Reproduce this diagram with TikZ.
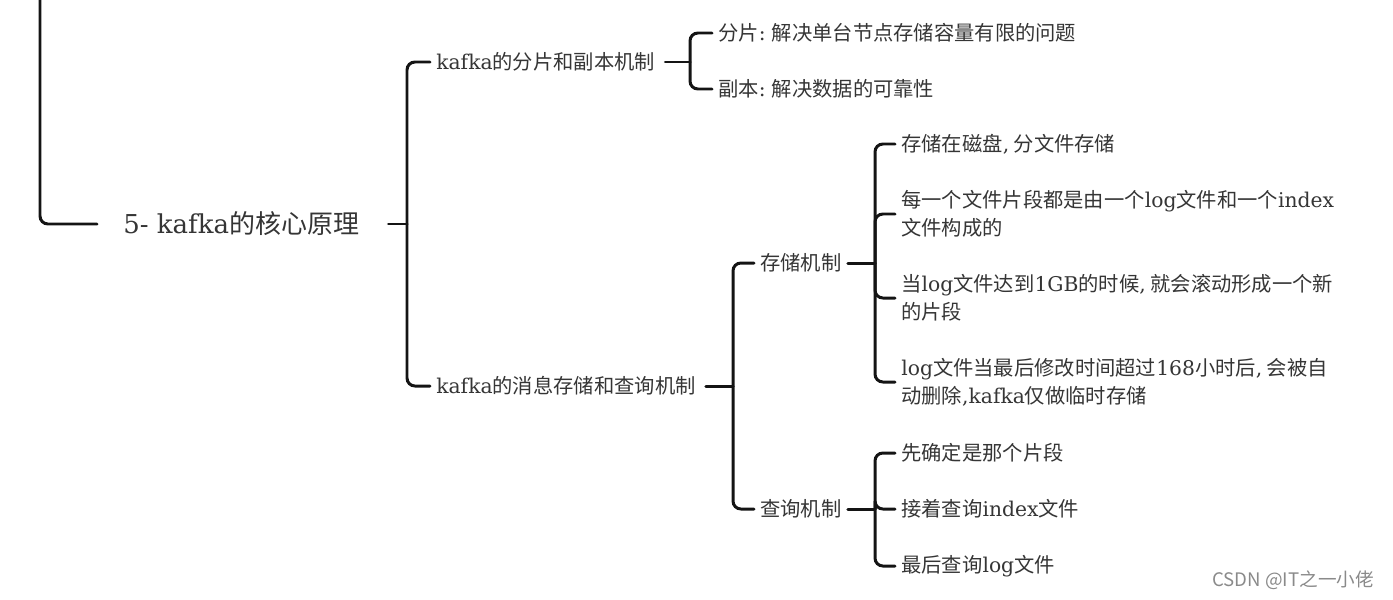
\documentclass[tikz,border=0pt]{standalone}
\usepackage{fontspec}
\setmainfont{Noto Sans CJK SC}
\newfontfamily\latfont{DejaVu Serif}
\newcommand\en[1]{{\latfont #1}}
\usepackage{xcolor}
\usepackage{tikz}
\usetikzlibrary{calc}
\definecolor{inkgray}{HTML}{353535}
\definecolor{linkblack}{HTML}{141414}
\definecolor{markgray}{HTML}{8A8A8A}

\begin{document}
\begin{tikzpicture}[x=0.02cm,y=-0.02cm,
  topic/.style={anchor=west,inner sep=0pt,align=left,text=inkgray,
    font=\fontsize{11.55}{16}\selectfont},
  roottopic/.style={topic,font=\fontsize{14.8}{18}\selectfont},
  link/.style={draw=linkblack,line width=1.7pt,line cap=round,rounded corners=4.5pt}]
  \useasboundingbox (0,0) rectangle (1393,599);
  % topics
  \node[roottopic] (root) at (123,224) {\en{5- kafka}的核心原理};
  \node[topic] (part) at (436,62) {\en{kafka}的分片和副本机制};
  \node[topic] (store) at (436,386) {\en{kafka}的消息存储和查询机制};
  \node[topic] (shard) at (718,33) {分片\en{:} 解决单台节点存储容量有限的问题};
  \node[topic] (replica) at (718,89) {副本\en{:} 解决数据的可靠性};
  \node[topic] (save) at (760,263) {存储机制};
  \node[topic] (query) at (760,509) {查询机制};
  \node[topic] (save1) at (901,144) {存储在磁盘\en{,} 分文件存储};
  \node[topic] (save2) at (901,214) {每一个文件片段都是由一个\en{log}文件和一个\en{index}\\文件构成的};
  \node[topic] (save3) at (901,298) {当\en{log}文件达到\en{1GB}的时候\en{,} 就会滚动形成一个新\\的片段};
  \node[topic] (save4) at (901,382) {\en{log}文件当最后修改时间超过\en{168}小时后\en{,} 会被自\\动删除\en{,kafka}仅做临时存储};
  \node[topic] (query1) at (901,453) {先确定是那个片段};
  \node[topic] (query2) at (901,509) {接着查询\en{index}文件};
  \node[topic] (query3) at (901,566) {最后查询\en{log}文件};
  \node[anchor=west,inner sep=0pt,text=markgray,font=\fontsize{10.6}{12}\selectfont]
    (mark) at (1212,580) {CSDN @IT之一小佬};
  % bracket positions
  \coordinate (up) at (40,-10);
  \coordinate (b0) at ($(part.west)+(-29,0)$);
  \coordinate (b1) at ($(shard.west)+(-28,0)$);
  \coordinate (b2) at ($(save.west)+(-27,0)$);
  \coordinate (b3) at ($(save1.west)+(-26,0)$);
  % connectors
  \draw[link] (up) |- ($(root.west)+(-26,0)$);
  \draw[link] ($(root.east)+(29,0)$) -- (b0 |- root.east);
  \foreach \c in {part,store} \draw[link] (b0 |- root.east) |- ($(\c.west)+(-6,0)$);
  \draw[link] ($(part.east)+(10,0)$) -- (b1 |- part.east);
  \foreach \c in {shard,replica} \draw[link] (b1 |- part.east) |- ($(\c.west)+(-6,0)$);
  \draw[link] ($(store.east)+(10,0)$) -- (b2 |- store.east);
  \foreach \c in {save,query} \draw[link] (b2 |- store.east) |- ($(\c.west)+(-6,0)$);
  \draw[link] ($(save.east)+(6,0)$) -- (b3 |- save.east);
  \foreach \c in {save1,save2,save3,save4} \draw[link] (b3 |- save.east) |- ($(\c.west)+(-6,0)$);
  \draw[link] ($(query.east)+(6,0)$) -- (b3 |- query.east);
  \foreach \c in {query1,query2,query3} \draw[link] (b3 |- query.east) |- ($(\c.west)+(-6,0)$);
\end{tikzpicture}
\end{document}
